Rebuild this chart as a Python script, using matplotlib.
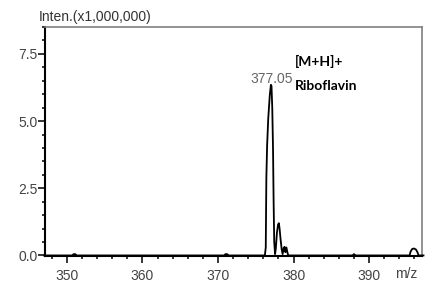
import matplotlib

matplotlib.use("Agg")
import matplotlib.pyplot as plt
from matplotlib.ticker import MultipleLocator, FormatStrFormatter

# ---------- profile spectrum (intensity in x1,000,000) ----------
mz = [347.0, 350.7, 350.9, 351.1, 351.3,
      370.8, 371.0, 371.2, 371.4,
      376.20, 376.32, 376.40, 376.50, 376.65, 376.85, 377.00, 377.08, 377.18,
      377.28, 377.36, 377.44, 377.55,
      377.65, 377.80, 377.95, 378.05, 378.15, 378.28, 378.42, 378.55,
      378.70, 378.80, 378.92, 379.05, 379.18, 379.30,
      387.8, 388.0, 388.2,
      395.35, 395.50, 395.70, 395.95, 396.20, 396.40, 396.55,
      397.2]
intensity = [0.0, 0.0, 0.05, 0.05, 0.0,
             0.0, 0.05, 0.05, 0.0,
             0.0, 0.30, 2.90, 4.10, 5.10, 5.95, 6.35, 6.30, 5.50,
             4.00, 2.00, 0.50, 0.05,
             0.25, 0.85, 1.15, 1.20, 1.00, 0.60, 0.25, 0.05,
             0.28, 0.32, 0.12, 0.30, 0.12, 0.0,
             0.0, 0.05, 0.0,
             0.0, 0.15, 0.24, 0.26, 0.22, 0.12, 0.0,
             0.0]

peak_mz = 377.05
peak_int = 6.35
peak_label = "377.05"
ion_label = "[M+H]+"
compound_label = "Riboflavin"
y_label = "Inten.(x1,000,000)"
x_label = "m/z"

W, H = 425, 282
fig = plt.figure(figsize=(W / 100, H / 100), dpi=100)
ax = fig.add_axes([45 / W, 26 / H, 377 / W, 229 / H])

ax.plot(mz, intensity, color="black", linewidth=1.3, clip_on=False, zorder=3)

ax.set_xlim(347.1, 397.0)
ax.set_ylim(-0.02, 8.5)

ax.xaxis.set_major_locator(MultipleLocator(10))
ax.xaxis.set_minor_locator(MultipleLocator(2))
ax.yaxis.set_major_locator(MultipleLocator(2.5))
ax.yaxis.set_minor_locator(MultipleLocator(0.5))
ax.yaxis.set_major_formatter(FormatStrFormatter("%.1f"))

for side in ("left", "bottom"):
    ax.spines[side].set_linewidth(1.5)
    ax.spines[side].set_color("black")
for side in ("top", "right"):
    ax.spines[side].set_linewidth(1.2)
    ax.spines[side].set_color("#808080")

ax.tick_params(which="major", direction="out", length=5, width=1.1,
               color="black", labelcolor="#444444", labelsize=10)
ax.tick_params(which="minor", direction="out", length=2.5, width=1.1, color="black")
ax.tick_params(axis="x", which="major", pad=4.5)
ax.tick_params(axis="y", which="major", pad=0.5)
for lbl in ax.get_xticklabels() + ax.get_yticklabels():
    lbl.set_family(["Liberation Sans", "DejaVu Sans"])

ax.annotate(peak_label, xy=(peak_mz, peak_int), xytext=(0, 1.5),
            textcoords="offset points", ha="center", va="baseline",
            fontsize=10, color="#666666", family=["Liberation Sans", "DejaVu Sans"])

fig.text(39 / W, 1 - 21 / H, y_label, ha="left", va="baseline",
         fontsize=10, color="#333333", family=["Liberation Sans", "DejaVu Sans"])
fig.text(406 / W, 3.5 / H, x_label, ha="center", va="baseline",
         fontsize=10, color="#444444", family=["Liberation Sans", "DejaVu Sans"])

fig.text(295 / W, 1 - 65.5 / H, ion_label, ha="left", va="baseline",
         fontsize=10, fontweight="bold", color="black", family=["Lato", "DejaVu Sans"])
fig.text(295 / W, 1 - 90 / H, compound_label, ha="left", va="baseline",
         fontsize=10, fontweight="bold", color="black", family=["Lato", "DejaVu Sans"])

fig.savefig("out.png", dpi=100)
